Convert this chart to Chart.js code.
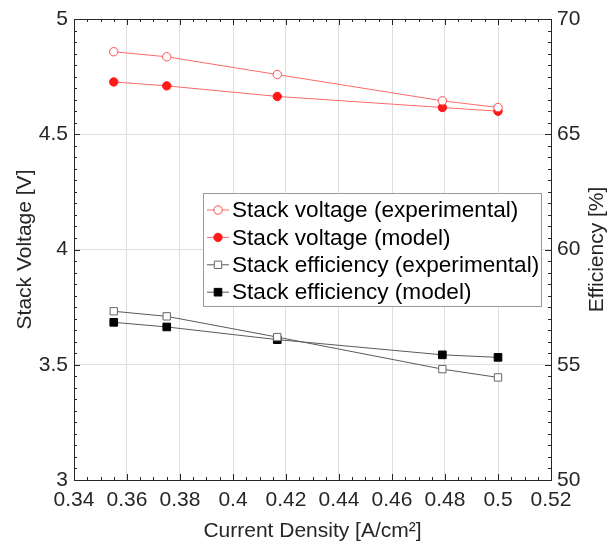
<!DOCTYPE html>
<html>
<head>
<meta charset="utf-8">
<script src="https://cdn.jsdelivr.net/npm/chart.js@4"></script>
<style>
  html, body { margin: 0; padding: 0; background: #fff; }
  #wrap { width: 608px; height: 549px; }
</style>
</head>
<body>
<div id="wrap"><canvas id="stage1" width="608" height="549"></canvas></div>
<script>
// data
var currentDensity = [0.355, 0.375, 0.4167, 0.479, 0.5];
var voltageExp = [4.858, 4.836, 4.759, 4.645, 4.616];
var voltageModel = [4.727, 4.71, 4.664, 4.616, 4.6];
var efficiencyExp = [57.32, 57.1, 56.2, 54.81, 54.45];
var efficiencyModel = [56.84, 56.64, 56.09, 55.43, 55.32];
var seriesLabels = ['Stack voltage (experimental)', 'Stack voltage (model)',
  'Stack efficiency (experimental)', 'Stack efficiency (model)'];

var FONT = "'Liberation Sans', Arial, sans-serif";
var TXT = '#262626';

function pts(xs, ys) {
  var out = [];
  for (var i = 0; i < xs.length; i++) out.push({x: xs[i], y: ys[i]});
  return out;
}

// plain number labels: 0.4 not 0.40, 5 not 5.0
function plainTick(value) {
  return String(Number(value.toFixed(4)));
}

// inward ticks (major + minor) and the box, like matlab axes
var boxTicks = {
  id: 'boxTicks',
  afterDatasetsDraw: function(chart) {
    var ctx = chart.ctx, a = chart.chartArea;
    var sx = chart.scales.x, sy = chart.scales.y, sy1 = chart.scales.y1;
    ctx.save();
    ctx.strokeStyle = TXT;
    ctx.lineWidth = 1;
    ctx.beginPath();
    var v, p, len, i;
    // x ticks on bottom and top
    for (i = 0; i <= 36; i++) {
      v = 0.34 + i * 0.005;
      p = Math.round(sx.getPixelForValue(v)) + 0.5;
      len = (i % 4 === 0) ? 6 : 3;
      ctx.moveTo(p, a.bottom); ctx.lineTo(p, a.bottom - len);
      ctx.moveTo(p, a.top); ctx.lineTo(p, a.top + len);
    }
    // left ticks
    for (i = 0; i <= 40; i++) {
      v = 3 + i * 0.05;
      p = Math.round(sy.getPixelForValue(v)) + 0.5;
      len = (i % 10 === 0) ? 6 : 3;
      ctx.moveTo(a.left, p); ctx.lineTo(a.left + len, p);
    }
    // right ticks
    for (i = 0; i <= 40; i++) {
      v = 50 + i * 0.5;
      p = Math.round(sy1.getPixelForValue(v)) + 0.5;
      len = (i % 10 === 0) ? 6 : 3;
      ctx.moveTo(a.right, p); ctx.lineTo(a.right - len, p);
    }
    ctx.stroke();
    ctx.strokeRect(Math.round(a.left) + 0.5, Math.round(a.top) + 0.5,
      Math.round(a.right - a.left), Math.round(a.bottom - a.top));

    // right axis title, reading bottom to top
    ctx.fillStyle = TXT;
    ctx.font = '21px ' + FONT;
    ctx.textAlign = 'center';
    ctx.textBaseline = 'middle';
    ctx.translate(597, (a.top + a.bottom) / 2);
    ctx.rotate(-Math.PI / 2);
    ctx.fillText('Efficiency [%]', 0, 0);
    ctx.restore();
  }
};

// legend box inside the plot
var boxLegend = {
  id: 'boxLegend',
  afterDraw: function(chart) {
    var ctx = chart.ctx;
    var x0 = 203, y0 = 193, w = 338, h = 113, rowH = 27.4;
    ctx.save();
    ctx.fillStyle = '#fff';
    ctx.fillRect(x0, y0, w, h);
    ctx.strokeStyle = '#9a9a9a';
    ctx.lineWidth = 1;
    ctx.strokeRect(x0 + 0.5, y0 + 0.5, w, h);
    ctx.font = '22.6px ' + FONT;
    ctx.textBaseline = 'middle';
    ctx.textAlign = 'left';
    chart.data.datasets.forEach(function(ds, i) {
      var cy = y0 + 17 + i * rowH;
      ctx.strokeStyle = ds.borderColor;
      ctx.lineWidth = 1;
      ctx.beginPath();
      ctx.moveTo(207, cy); ctx.lineTo(229, cy);
      ctx.stroke();
      ctx.fillStyle = ds.pointBackgroundColor;
      ctx.strokeStyle = ds.pointBorderColor;
      Chart.helpers.drawPoint(ctx, {
        pointStyle: ds.pointStyle, radius: ds.pointRadius, borderWidth: 1
      }, 218, cy);
      ctx.fillStyle = '#000';
      ctx.fillText(ds.label, 232, cy + 1);
    });
    ctx.restore();
  }
};

var chart = new Chart(document.getElementById('stage1'), {
  type: 'line',
  data: {
    datasets: [{
      label: seriesLabels[0],
      data: pts(currentDensity, voltageExp),
      yAxisID: 'y',
      borderColor: '#ff6a6a',
      borderWidth: 1,
      pointStyle: 'circle',
      pointRadius: 4.2,
      pointBackgroundColor: '#ffffff',
      pointBorderColor: '#ff4d4d',
      pointBorderWidth: 1
    }, {
      label: seriesLabels[1],
      data: pts(currentDensity, voltageModel),
      yAxisID: 'y',
      borderColor: '#ff6a6a',
      borderWidth: 1,
      pointStyle: 'circle',
      pointRadius: 4.2,
      pointBackgroundColor: '#ff1a1a',
      pointBorderColor: '#ff1a1a',
      pointBorderWidth: 1
    }, {
      label: seriesLabels[2],
      data: pts(currentDensity, efficiencyExp),
      yAxisID: 'y1',
      borderColor: '#5a5a5a',
      borderWidth: 1,
      pointStyle: 'rect',
      pointRadius: 5.2,
      pointBackgroundColor: '#ffffff',
      pointBorderColor: '#666666',
      pointBorderWidth: 1
    }, {
      label: seriesLabels[3],
      data: pts(currentDensity, efficiencyModel),
      yAxisID: 'y1',
      borderColor: '#5a5a5a',
      borderWidth: 1,
      pointStyle: 'rect',
      pointRadius: 5.4,
      pointBackgroundColor: '#000000',
      pointBorderColor: '#000000',
      pointBorderWidth: 1
    }]
  },
  options: {
    responsive: false,
    animation: false,
    layout: { padding: { top: 19, left: 0, right: 0, bottom: 0 } },
    elements: { line: { tension: 0 } },
    plugins: {
      legend: { display: false },
      tooltip: { enabled: false }
    },
    scales: {
      x: {
        type: 'linear',
        min: 0.34, max: 0.52,
        afterFit: function(s) { s.height = 69; },
        ticks: { stepSize: 0.02, padding: 8, color: TXT, font: { family: FONT, size: 21 }, maxRotation: 0, callback: plainTick },
        grid: { color: '#dedede', drawTicks: false },
        border: { display: false },
        title: {
          display: true,
          text: 'Current Density [A/cm²]',
          color: TXT,
          font: { family: FONT, size: 21 },
          padding: { top: 0, bottom: 5 }
        }
      },
      y: {
        position: 'left',
        min: 3, max: 5,
        afterFit: function(s) { s.width = 74; },
        ticks: { stepSize: 0.5, padding: 6, color: TXT, font: { family: FONT, size: 21 }, callback: plainTick },
        grid: { color: '#dedede', drawTicks: false },
        border: { display: false },
        title: {
          display: true,
          text: 'Stack Voltage [V]',
          color: TXT,
          font: { family: FONT, size: 21 },
          padding: { top: 13, bottom: 0 }
        }
      },
      y1: {
        position: 'right',
        min: 50, max: 70,
        afterFit: function(s) { s.width = 57; },
        ticks: { stepSize: 5, padding: 6, color: TXT, font: { family: FONT, size: 21 }, callback: plainTick },
        grid: { display: false, drawTicks: false },
        border: { display: false }
      }
    }
  },
  plugins: [boxTicks, boxLegend]
});
</script>
</body>
</html>
